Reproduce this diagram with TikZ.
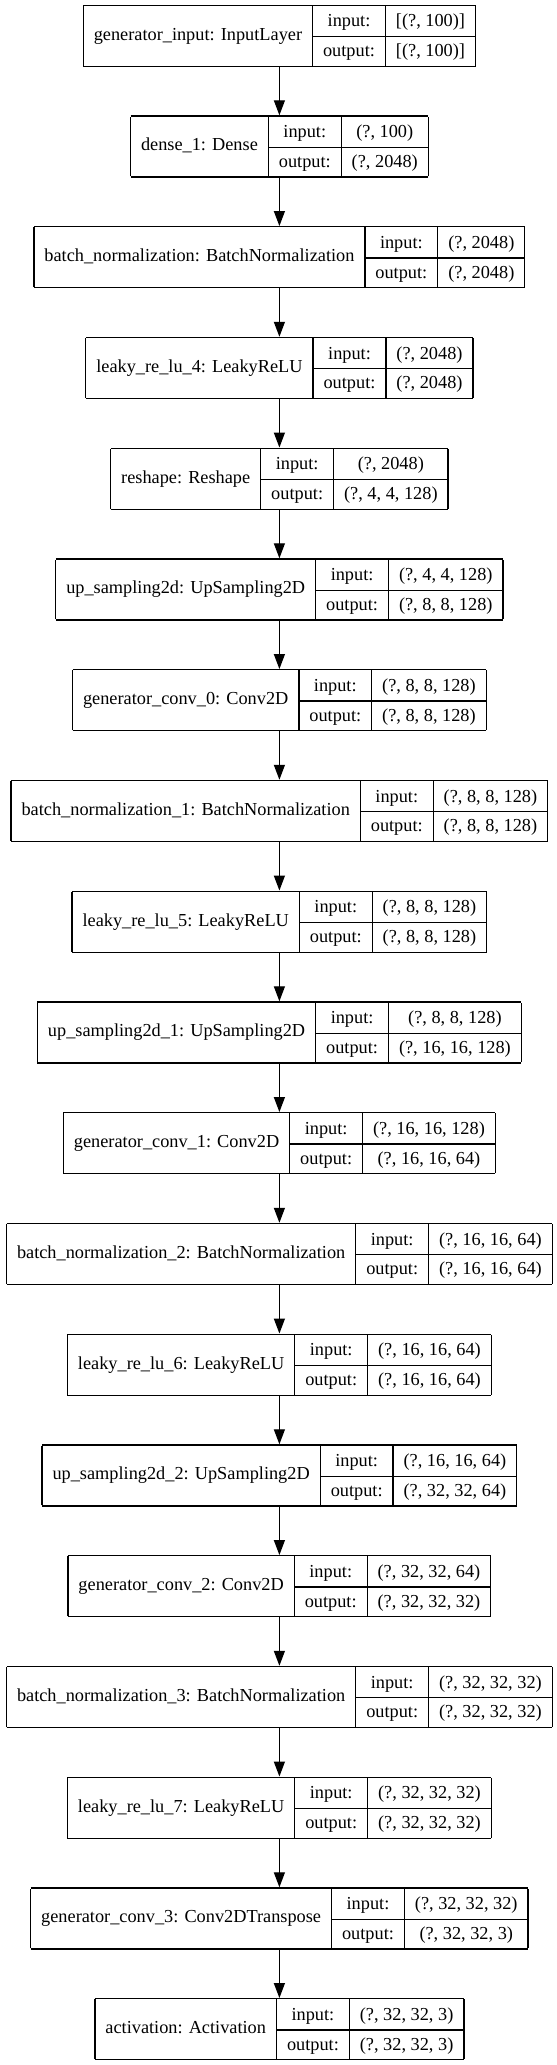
\documentclass[tikz,border=0pt]{standalone}
\usepackage{fontspec}
\setmainfont{Liberation Serif}
\usepackage{multirow}
\usetikzlibrary{arrows.meta}

\setlength{\tabcolsep}{10.5pt}
\setlength{\arrayrulewidth}{1.3pt}
\renewcommand{\arraystretch}{1.36}

% one keras layer record: name | input/output | shapes
\newcommand{\kerasrec}[3]{%
\begin{tabular}{|c|c|c|}\hline
\multirow{2}{*}{#1} & input: & #2 \\ \cline{2-3}
 & output: & #3 \\ \hline
\end{tabular}}

\tikzset{
  layer/.style={inner sep=0pt, outer sep=0pt, font=\fontsize{18.3}{22}\selectfont},
  flow/.style={line width=1.3pt, -{Triangle[length=15pt,width=11pt]}}
}

\begin{document}
\begin{tikzpicture}[x=1pt,y=1pt,yscale=-1,xscale=1]
\useasboundingbox [fill=white] (0,0) rectangle (557,2065);

% Text Node
\draw (279.4,35.75) node [layer] (gin) {\kerasrec{generator\_input: InputLayer}{[(?, 100)]}{[(?, 100)]}};
% Text Node
\draw (279.4,146.5) node [layer] (dense) {\kerasrec{dense\_1: Dense}{(?, 100)}{(?, 2048)}};
% Text Node
\draw (279.4,257.25) node [layer] (bn0) {\kerasrec{batch\_normalization: BatchNormalization}{(?, 2048)}{(?, 2048)}};
% Text Node
\draw (279.4,368) node [layer] (lrelu4) {\kerasrec{leaky\_re\_lu\_4: LeakyReLU}{(?, 2048)}{(?, 2048)}};
% Text Node
\draw (279.4,478.75) node [layer] (reshape) {\kerasrec{reshape: Reshape}{(?, 2048)}{(?, 4, 4, 128)}};
% Text Node
\draw (279.4,589.5) node [layer] (up0) {\kerasrec{up\_sampling2d: UpSampling2D}{(?, 4, 4, 128)}{(?, 8, 8, 128)}};
% Text Node
\draw (279.4,700.25) node [layer] (conv0) {\kerasrec{generator\_conv\_0: Conv2D}{(?, 8, 8, 128)}{(?, 8, 8, 128)}};
% Text Node
\draw (279.4,811) node [layer] (bn1) {\kerasrec{batch\_normalization\_1: BatchNormalization}{(?, 8, 8, 128)}{(?, 8, 8, 128)}};
% Text Node
\draw (279.4,921.75) node [layer] (lrelu5) {\kerasrec{leaky\_re\_lu\_5: LeakyReLU}{(?, 8, 8, 128)}{(?, 8, 8, 128)}};
% Text Node
\draw (279.4,1032.5) node [layer] (up1) {\kerasrec{up\_sampling2d\_1: UpSampling2D}{(?, 8, 8, 128)}{(?, 16, 16, 128)}};
% Text Node
\draw (279.4,1143.25) node [layer] (conv1) {\kerasrec{generator\_conv\_1: Conv2D}{(?, 16, 16, 128)}{(?, 16, 16, 64)}};
% Text Node
\draw (279.4,1254) node [layer] (bn2) {\kerasrec{batch\_normalization\_2: BatchNormalization}{(?, 16, 16, 64)}{(?, 16, 16, 64)}};
% Text Node
\draw (279.4,1364.75) node [layer] (lrelu6) {\kerasrec{leaky\_re\_lu\_6: LeakyReLU}{(?, 16, 16, 64)}{(?, 16, 16, 64)}};
% Text Node
\draw (279.4,1475.5) node [layer] (up2) {\kerasrec{up\_sampling2d\_2: UpSampling2D}{(?, 16, 16, 64)}{(?, 32, 32, 64)}};
% Text Node
\draw (279.4,1586.25) node [layer] (conv2) {\kerasrec{generator\_conv\_2: Conv2D}{(?, 32, 32, 64)}{(?, 32, 32, 32)}};
% Text Node
\draw (279.4,1697) node [layer] (bn3) {\kerasrec{batch\_normalization\_3: BatchNormalization}{(?, 32, 32, 32)}{(?, 32, 32, 32)}};
% Text Node
\draw (279.4,1807.75) node [layer] (lrelu7) {\kerasrec{leaky\_re\_lu\_7: LeakyReLU}{(?, 32, 32, 32)}{(?, 32, 32, 32)}};
% Text Node
\draw (279.4,1918.5) node [layer] (conv3) {\kerasrec{generator\_conv\_3: Conv2DTranspose}{(?, 32, 32, 32)}{(?, 32, 32, 3)}};
% Text Node
\draw (279.4,2029.25) node [layer] (act) {\kerasrec{activation: Activation}{(?, 32, 32, 3)}{(?, 32, 32, 3)}};

%Straight Lines
\draw [flow] (gin) -- (dense);
\draw [flow] (dense) -- (bn0);
\draw [flow] (bn0) -- (lrelu4);
\draw [flow] (lrelu4) -- (reshape);
\draw [flow] (reshape) -- (up0);
\draw [flow] (up0) -- (conv0);
\draw [flow] (conv0) -- (bn1);
\draw [flow] (bn1) -- (lrelu5);
\draw [flow] (lrelu5) -- (up1);
\draw [flow] (up1) -- (conv1);
\draw [flow] (conv1) -- (bn2);
\draw [flow] (bn2) -- (lrelu6);
\draw [flow] (lrelu6) -- (up2);
\draw [flow] (up2) -- (conv2);
\draw [flow] (conv2) -- (bn3);
\draw [flow] (bn3) -- (lrelu7);
\draw [flow] (lrelu7) -- (conv3);
\draw [flow] (conv3) -- (act);

\end{tikzpicture}
\end{document}
